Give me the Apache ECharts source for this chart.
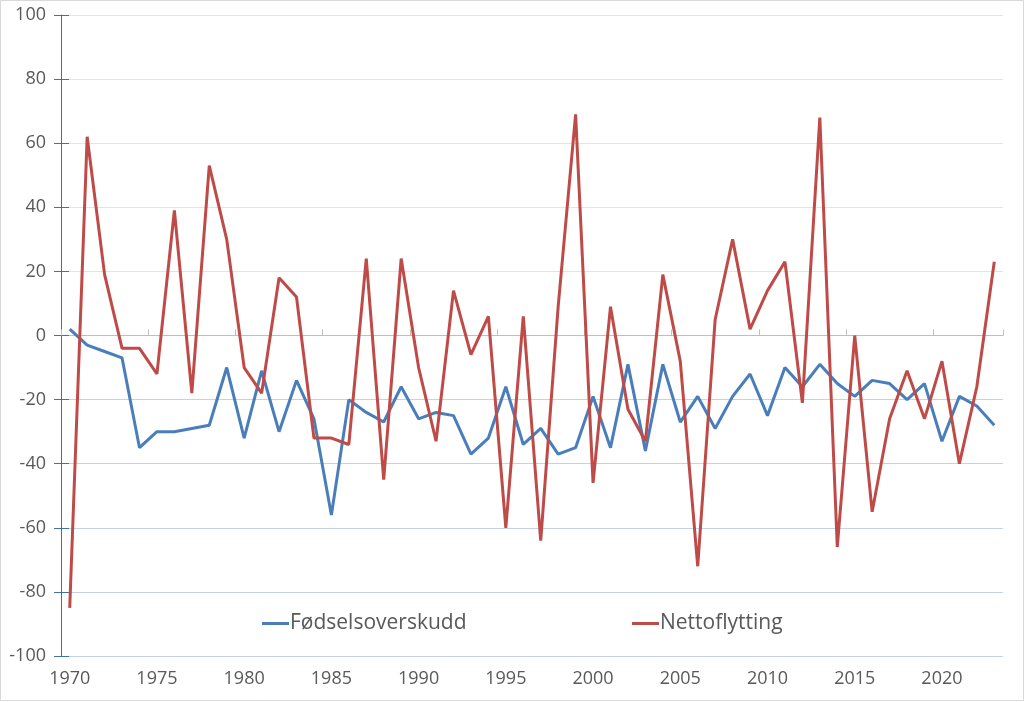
<!DOCTYPE html>
<html>
<head>
<meta charset="utf-8">
<script src="https://cdn.jsdelivr.net/npm/echarts@6/dist/echarts.min.js"></script>
<style>
html,body{margin:0;padding:0;background:#fff;}
#c{width:1025px;height:702px;}
</style>
</head>
<body>
<div id="c"></div>
<script>
var years = [];
for (var y = 1970; y <= 2023; y++) years.push(String(y));

var fodselsoverskudd = [2, -3, -5, -7, -35, -30, -30, -29, -28, -10,
  -32, -11, -30, -14, -26, -56, -20, -24, -27, -16,
  -26, -24, -25, -37, -32, -16, -34, -29, -37, -35,
  -19, -35, -9, -36, -9, -27, -19, -29, -19, -12,
  -25, -10, -16, -9, -15, -19, -14, -15, -20, -15,
  -33, -19, -22, -28];

var nettoflytting = [-85, 62, 19, -4, -4, -12, 39, -18, 53, 30,
  -10, -18, 18, 12, -32, -32, -34, 24, -45, 24,
  -10, -33, 14, -6, 6, -60, 6, -64, 9, 69,
  -46, 9, -23, -33, 19, -8, -72, 5, 30, 2,
  14, 23, -21, 68, -66, 0, -55, -26, -11, -26,
  -8, -40, -16, 23];

var seriesNames = ['Fødselsoverskudd', 'Nettoflytting'];
var yMin = -100, yMax = 100, yStep = 20;

var chart = echarts.init(document.getElementById('c'));
var fontFam = '"Open Sans", "Liberation Sans", sans-serif';
chart.setOption({
  animation: false,
  backgroundColor: '#ffffff',
  graphic: [{
    type: 'rect', shape: {x: 0.5, y: 0.5, width: 1023, height: 700},
    style: {fill: 'none', stroke: '#d9d9d9', lineWidth: 1}, silent: true
  }],
  grid: {left: 61, right: 22, top: 15, bottom: 46},
  legend: [{
    data: [seriesNames[0]], left: 257, top: 608,
    icon: 'rect', itemWidth: 27, itemHeight: 3, itemGap: 4,
    textStyle: {fontFamily: fontFam, fontSize: 21, color: '#595959', padding: [0, 0, 0, -4]}
  }, {
    data: [seriesNames[1]], left: 627, top: 608,
    icon: 'rect', itemWidth: 27, itemHeight: 3,
    textStyle: {fontFamily: fontFam, fontSize: 21, color: '#595959', padding: [0, 0, 0, -4]}
  }],
  xAxis: [{
    type: 'category', data: years, boundaryGap: true, position: 'bottom',
    axisLine: {show: false, onZero: false},
    axisTick: {show: false},
    axisLabel: {interval: 4, margin: 14, color: '#595959', fontSize: 18, fontFamily: fontFam},
    splitLine: {show: false}
  }, {
    type: 'category', data: years, boundaryGap: true, position: 'bottom',
    axisLine: {show: true, onZero: true, lineStyle: {color: '#bfbfbf', width: 1}},
    axisTick: {show: true, inside: true, length: 6, interval: 4, alignWithLabel: false, lineStyle: {color: '#bfbfbf'}},
    axisLabel: {show: false},
    splitLine: {show: false}
  }],
  yAxis: [{
    type: 'value', min: yMin, max: yMax, interval: yStep,
    axisLine: {show: true, lineStyle: {color: '#3d74a3', width: 1}},
    axisTick: {show: true, length: 7, lineStyle: {color: '#3d74a3'}},
    axisLabel: {margin: 15, color: '#595959', fontSize: 18, fontFamily: fontFam},
    splitLine: {show: true, lineStyle: {width: 1, color: ['#c4d3e6', '#c4d3e6', '#c4d3e6', '#c4d3e6', '#c4d3e6', '#c4d3e6', '#e4e4e4', '#e4e4e4', '#e4e4e4', '#e4e4e4', '#e4e4e4']}}
  }, {
    type: 'value', min: yMin, max: yMax, interval: yStep, position: 'left',
    axisLine: {show: false},
    axisTick: {show: true, inside: true, length: 8, lineStyle: {color: '#3d74a3'}},
    axisLabel: {show: false},
    splitLine: {show: false}
  }],
  series: [{
    name: seriesNames[0], type: 'line', data: fodselsoverskudd,
    xAxisIndex: 0, yAxisIndex: 0,
    showSymbol: false, symbol: 'none',
    lineStyle: {color: '#4a7ebb', width: 3}, itemStyle: {color: '#4a7ebb'}
  }, {
    name: seriesNames[1], type: 'line', data: nettoflytting,
    xAxisIndex: 0, yAxisIndex: 0,
    showSymbol: false, symbol: 'none',
    lineStyle: {color: '#be4b48', width: 3}, itemStyle: {color: '#be4b48'}
  }]
});
</script>
</body>
</html>
